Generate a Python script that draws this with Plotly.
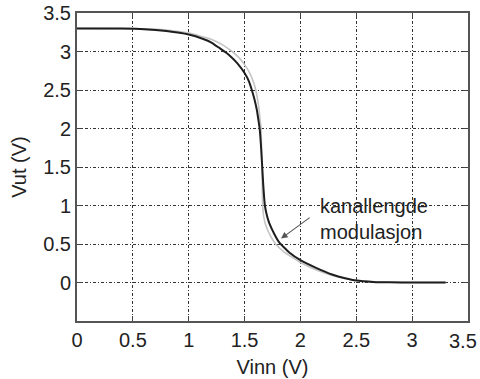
import plotly.graph_objects as go

# Black curve: with channel-length modulation
vin_clm = [0.0, 0.4, 0.6, 0.8, 1.0, 1.13, 1.2, 1.28, 1.33, 1.38, 1.434, 1.5, 1.54, 1.565,
           1.59, 1.61, 1.625, 1.635, 1.648, 1.658, 1.668, 1.682, 1.70, 1.721, 1.766, 1.81,
           1.90, 2.0, 2.14, 2.29, 2.4, 2.5, 2.65, 2.8, 3.0, 3.3]
vout_clm = [3.30, 3.298, 3.29, 3.265, 3.22, 3.163, 3.12, 3.04, 2.99, 2.93, 2.85, 2.72, 2.61, 2.5,
            2.37, 2.24, 2.1, 2.0, 1.75, 1.5, 1.25, 1.0, 0.87, 0.77, 0.63, 0.52,
            0.39, 0.29, 0.19, 0.10, 0.055, 0.025, 0.008, 0.002, 0.0, 0.0]

# Gray curve: without channel-length modulation
vin_ideal = [0.0, 0.6, 0.8, 1.0, 1.2, 1.3, 1.388, 1.45, 1.5, 1.55, 1.58, 1.6, 1.625, 1.64,
             1.648, 1.655, 1.662, 1.672, 1.695, 1.73, 1.778, 1.85, 2.0, 2.15, 2.3, 2.45, 2.6,
             2.8, 3.0, 3.3]
vout_ideal = [3.30, 3.295, 3.28, 3.24, 3.16, 3.09, 3.0, 2.92, 2.83, 2.71, 2.6, 2.5, 2.3, 2.1,
              2.0, 1.5, 1.0, 0.85, 0.72, 0.61, 0.5, 0.4, 0.26, 0.16, 0.085, 0.04, 0.015,
              0.003, 0.0, 0.0]

x_ticks = [0, 0.5, 1, 1.5, 2, 2.5, 3, 3.5]
x_ticklabels = ["0", "0.5", "1", "1.5", "2", "2.5", "3", "3.5"]
y_ticks = [0, 0.5, 1, 1.5, 2, 2.5, 3, 3.5]
y_ticklabels = ["0", "0.5", "1", "1.5", "2", "2.5", "3", "3.5"]

annotation_text = "kanallengde<br>modulasjon"

FONT = "Liberation Sans, Arial, sans-serif"
TXT = "#222222"
FS = 20

fig = go.Figure()
fig.add_trace(go.Scatter(x=vin_ideal, y=vout_ideal, mode="lines",
                         line=dict(color="#c4c4c4", width=1.6, shape="spline", smoothing=0.4),
                         hoverinfo="skip", showlegend=False))
fig.add_trace(go.Scatter(x=vin_clm, y=vout_clm, mode="lines",
                         line=dict(color="#1e1e1e", width=2, shape="spline", smoothing=0.4),
                         hoverinfo="skip", showlegend=False))

axis_common = dict(
    showline=True, linecolor="#555555", linewidth=2, mirror="ticks",
    ticks="inside", ticklen=5, tickcolor="#444444", tickwidth=1,
    showgrid=True, gridcolor="#333333", gridwidth=1, griddash="3px,2px,1px,2px",
    zeroline=False, automargin=False,
    tickfont=dict(family=FONT, size=FS, color=TXT),
)

# last x tick label is placed separately (shifted inward so it fits the page, as in the reference)
fig.update_xaxes(range=[0, 3.5], tickvals=x_ticks, ticktext=x_ticklabels[:-1] + [""],
                 title=dict(text="Vinn (V)", font=dict(family=FONT, size=FS, color=TXT), standoff=10),
                 **axis_common)
fig.update_yaxes(range=[-0.5, 3.5], tickvals=y_ticks, ticktext=y_ticklabels,
                 title=dict(text="Vut (V)", font=dict(family=FONT, size=FS, color=TXT), standoff=11),
                 **axis_common)

fig.add_annotation(x=x_ticks[-1], y=0, xref="x", yref="paper", text=x_ticklabels[-1],
                   showarrow=False, xanchor="center", yanchor="middle", xshift=-5, yshift=-20,
                   font=dict(family=FONT, size=FS, color=TXT))

fig.add_annotation(x=2.16, y=0.82, xref="x", yref="y", text=annotation_text,
                   showarrow=False, xanchor="left", yanchor="middle", align="left",
                   font=dict(family=FONT, size=FS, color=TXT))
fig.add_annotation(x=1.826, y=0.57, xref="x", yref="y", ax=2.096, ay=0.857,
                   axref="x", ayref="y", text="", showarrow=True,
                   arrowhead=2, arrowsize=1.2, arrowwidth=1.1, arrowcolor="#555555")

fig.update_layout(
    width=480, height=379,
    margin=dict(l=77, r=12, t=13, b=58),
    paper_bgcolor="white", plot_bgcolor="white",
    font=dict(family=FONT, color=TXT),
)

fig.write_html("out.html")
